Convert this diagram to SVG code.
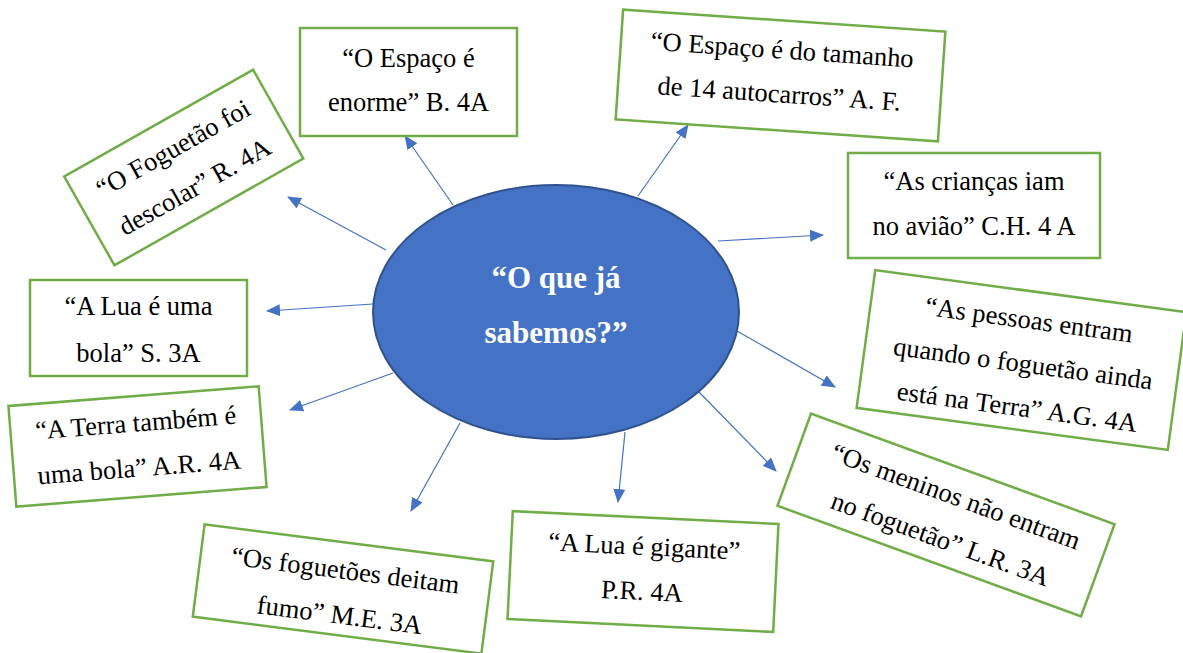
<svg xmlns="http://www.w3.org/2000/svg" width="1183" height="653" viewBox="0 0 1183 653">
<defs>
<style>
.box{fill:#fff;stroke:#70AD47;stroke-width:2.5}
.t{font-family:"Liberation Serif","Times New Roman",serif;font-size:26.5px;fill:#000;text-anchor:middle}
.title{font-family:"Liberation Serif","Times New Roman",serif;font-size:31px;font-weight:bold;fill:#fff;text-anchor:middle}
.c{stroke:#4472C4;stroke-width:1.2;fill:none;marker-end:url(#ah)}
</style>
<marker id="ah" viewBox="0 0 14 12" markerWidth="14" markerHeight="12" refX="13" refY="6" orient="auto" markerUnits="userSpaceOnUse">
<path d="M0,0 L14,6 L0,12 z" fill="#4472C4"/>
</marker>
</defs>
<rect width="1183" height="653" fill="#fff"/>

<g id="connectors">
<line class="c" x1="453" y1="205" x2="405" y2="136"/>
<line class="c" x1="638" y1="196" x2="688" y2="125"/>
<line class="c" x1="718" y1="241" x2="823" y2="235"/>
<line class="c" x1="737" y1="331" x2="835" y2="387"/>
<line class="c" x1="699" y1="392" x2="776" y2="471"/>
<line class="c" x1="625" y1="432" x2="618" y2="502"/>
<line class="c" x1="460" y1="423" x2="411" y2="511"/>
<line class="c" x1="393" y1="373" x2="290" y2="410"/>
<line class="c" x1="373" y1="304" x2="267" y2="311"/>
<line class="c" x1="386" y1="250" x2="288" y2="197"/>
</g>

<g id="center">
<ellipse cx="556" cy="312" rx="183" ry="127" fill="#4472C4" stroke="#2F528F" stroke-width="2"/>
<text class="title" x="556" y="288">“O que já</text>
<text class="title" x="556" y="343">sabemos?”</text>
</g>

<g id="n-espaco-enorme" transform="translate(408.5,82)">
<rect class="box" x="-108.5" y="-54" width="217" height="108"/>
<text class="t" x="0" y="-15">“O Espaço é</text>
<text class="t" x="0" y="29">enorme” B. 4A</text>
</g>

<g id="n-espaco-tamanho" transform="translate(780.5,75.5) rotate(3.9)">
<rect class="box" x="-161.5" y="-55" width="323" height="110"/>
<text class="t" x="0" y="-17">“O Espaço é do tamanho</text>
<text class="t" x="0" y="27">de 14 autocarros” A. F.</text>
</g>

<g id="n-criancas" transform="translate(974,205.5)">
<rect class="box" x="-126" y="-52.5" width="252" height="105"/>
<text class="t" x="0" y="-15.5">“As crianças iam</text>
<text class="t" x="0" y="29.5">no avião” C.H. 4 A</text>
</g>

<g id="n-pessoas" transform="translate(1021.5,360) rotate(7.7)">
<rect class="box" x="-157" y="-69.5" width="314" height="139"/>
<text class="t" x="2" y="-32">“As pessoas entram</text>
<text class="t" x="2" y="12">quando o foguetão ainda</text>
<text class="t" x="2" y="56">está na Terra” A.G. 4A</text>
</g>

<g id="n-meninos" transform="translate(946,515) rotate(20)">
<rect class="box" x="-161.5" y="-49" width="323" height="98"/>
<text class="t" x="3" y="-12">“Os meninos não entram</text>
<text class="t" x="3" y="33">no foguetão” L.R. 3A</text>
</g>

<g id="n-lua-gigante" transform="translate(643,571.5) rotate(2.8)">
<rect class="box" x="-133" y="-54" width="266" height="108"/>
<text class="t" x="0" y="-16.5">“A Lua é gigante”</text>
<text class="t" x="0" y="28.5">P.R. 4A</text>
</g>

<g id="n-foguetoes" transform="translate(343,589) rotate(7.3)">
<rect class="box" x="-145.5" y="-46.5" width="291" height="93"/>
<text class="t" x="0" y="-10">“Os foguetões deitam</text>
<text class="t" x="0" y="35">fumo” M.E. 3A</text>
</g>

<g id="n-terra" transform="translate(137.5,446.5) rotate(-4.5)">
<rect class="box" x="-125.5" y="-50.5" width="251" height="101"/>
<text class="t" x="0" y="-15">“A Terra também é</text>
<text class="t" x="0" y="30">uma bola” A.R. 4A</text>
</g>

<g id="n-lua-bola" transform="translate(138.5,328)">
<rect class="box" x="-108.5" y="-48" width="217" height="96"/>
<text class="t" x="0" y="-13">“A Lua é uma</text>
<text class="t" x="0" y="34">bola” S. 3A</text>
</g>

<g id="n-foguetao" transform="translate(183.75,167.5) rotate(-29.5)">
<rect class="box" x="-108.5" y="-51" width="217" height="102"/>
<text class="t" x="0" y="-13">“O Foguetão foi</text>
<text class="t" x="0" y="31">descolar” R. 4A</text>
</g>
</svg>
